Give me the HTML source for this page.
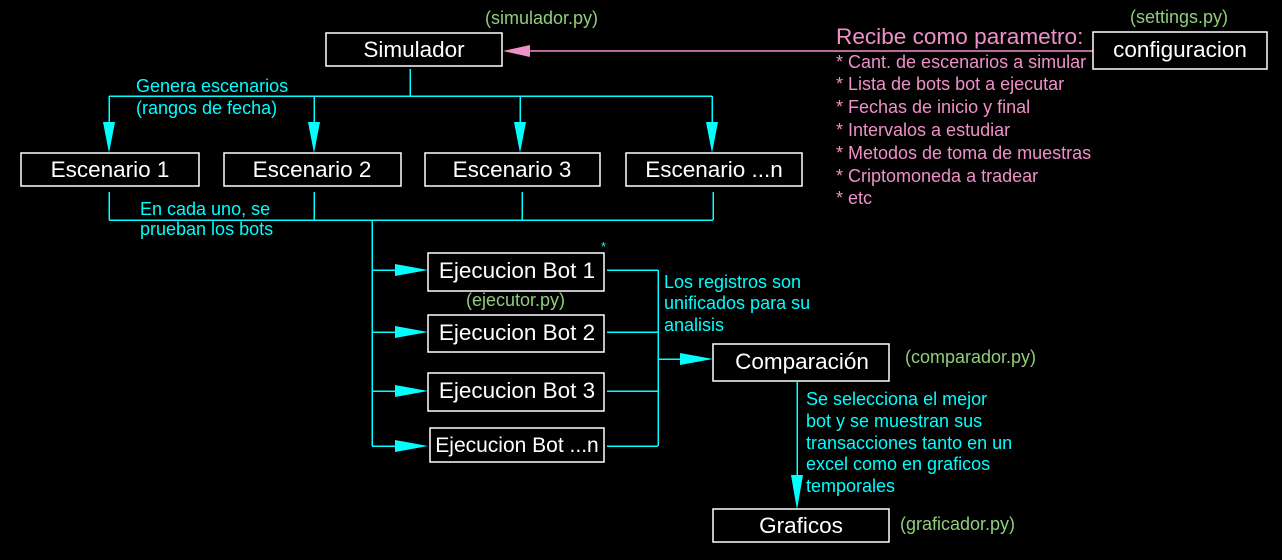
<!DOCTYPE html>
<html><head><meta charset="utf-8"><style>
html,body{margin:0;padding:0;background:#000;width:1282px;height:560px;overflow:hidden}
svg{display:block}
text{font-family:"Liberation Sans",Arial,sans-serif}
.b{fill:#000;stroke:#fff;stroke-width:1.5}
.t{fill:#fff;font-size:22.5px;text-anchor:middle}
.c{stroke:#00ffff;stroke-width:1.5;fill:none;shape-rendering:crispEdges}
.a{fill:#00ffff}
.g{fill:#8fce7a;font-size:18px}
.cy{fill:#00ffff;font-size:18px}
.p{fill:#f090c8;font-size:18px}
</style></head><body>
<svg width="1282" height="560" viewBox="0 0 1282 560">
<line x1="1093" y1="51" x2="528" y2="51" stroke="#f090c8" stroke-width="1.5"/>
<polygon points="503,51 530,45 530,57" fill="#f090c8"/>
<text x="836" y="44" fill="#f090c8" font-size="22.6">Recibe como parametro:</text>
<text class="p" x="836" y="68">* Cant. de escenarios a simular</text>
<text class="p" x="836" y="90">* Lista de bots bot a ejecutar</text>
<text class="p" x="836" y="113">* Fechas de inicio y final</text>
<text class="p" x="836" y="136">* Intervalos a estudiar</text>
<text class="p" x="836" y="159">* Metodos de toma de muestras</text>
<text class="p" x="836" y="182">* Criptomoneda a tradear</text>
<text class="p" x="836" y="204">* etc</text>

<rect class="b" x="326" y="33" width="176" height="33"/><text class="t" x="414" y="57">Simulador</text>
<text class="g" x="485" y="24">(simulador.py)</text>
<rect class="b" x="1093" y="32" width="174" height="37"/><text class="t" x="1180" y="57">configuracion</text>
<text class="g" x="1130" y="23">(settings.py)</text>

<path class="c" d="M410 69V96M109 96H712M109 96V125M314 96V125M520 96V125M712 96V125"/>
<polygon class="a" points="103,122 115,122 109,153"/>
<polygon class="a" points="308,122 320,122 314,153"/>
<polygon class="a" points="514,122 526,122 520,153"/>
<polygon class="a" points="706,122 718,122 712,153"/>
<text class="cy" x="136" y="92">Genera escenarios</text>
<text class="cy" x="136" y="114">(rangos de fecha)</text>

<rect class="b" x="21" y="153" width="178" height="33"/><text class="t" x="110" y="177">Escenario 1</text>
<rect class="b" x="224" y="153" width="177" height="33"/><text class="t" x="312" y="177">Escenario 2</text>
<rect class="b" x="425" y="153" width="175" height="33"/><text class="t" x="512" y="177">Escenario 3</text>
<rect class="b" x="626" y="153" width="176" height="33"/><text class="t" x="714" y="177">Escenario ...n</text>

<path class="c" d="M109 192V220M314 192V220M522 192V220M713 192V220M109 220H713M372 220V446"/>
<text class="cy" x="140" y="215">En cada uno, se</text>
<text class="cy" x="140" y="235">prueban los bots</text>

<path class="c" d="M372 270H400M372 332H400M372 391H400M372 446H400"/>
<polygon class="a" points="395,264 428,270 395,276"/>
<polygon class="a" points="395,326 428,332 395,338"/>
<polygon class="a" points="395,385 428,391 395,397"/>
<polygon class="a" points="395,440 428,446 395,452"/>
<text x="601" y="251" fill="#00ffff" font-size="13">*</text>
<rect class="b" x="428" y="253" width="176" height="38"/><text class="t" x="517" y="278">Ejecucion Bot 1</text>
<text class="g" x="466" y="306">(ejecutor.py)</text>
<rect class="b" x="428" y="315" width="176" height="37"/><text class="t" x="517" y="340">Ejecucion Bot 2</text>
<rect class="b" x="428" y="373" width="176" height="38"/><text class="t" x="517" y="398">Ejecucion Bot 3</text>
<rect class="b" x="430" y="428" width="174" height="34"/><text class="t" x="517" y="452" style="font-size:21px">Ejecucion Bot ...n</text>

<path class="c" d="M607 270H658M607 332H658M607 391H658M607 446H658M658 270V446M658 359H685"/>
<polygon class="a" points="680,353 713,359 680,365"/>
<text class="cy" x="664" y="288">Los registros son</text>
<text class="cy" x="664" y="309">unificados para su</text>
<text class="cy" x="664" y="331">analisis</text>

<rect class="b" x="713" y="344" width="176" height="37"/><text class="t" x="802" y="369">Comparación</text>
<text class="g" x="905" y="363">(comparador.py)</text>

<path class="c" d="M797 381V478"/>
<polygon class="a" points="791,475 803,475 797,510"/>
<text class="cy" x="806" y="405">Se selecciona el mejor</text>
<text class="cy" x="806" y="427">bot y se muestran sus</text>
<text class="cy" x="806" y="449">transacciones tanto en un</text>
<text class="cy" x="806" y="470">excel como en graficos</text>
<text class="cy" x="806" y="492">temporales</text>

<rect class="b" x="713" y="509" width="176" height="33"/><text class="t" x="801" y="533">Graficos</text>
<text class="g" x="900" y="530">(graficador.py)</text>
</svg>
</body></html>
